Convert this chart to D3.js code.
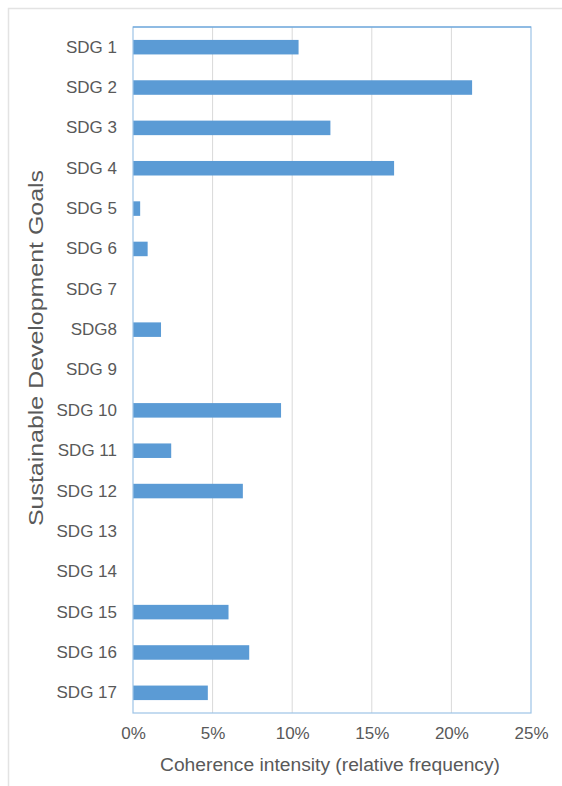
<!DOCTYPE html>
<html>
<head>
<meta charset="utf-8">
<script src="https://cdn.jsdelivr.net/npm/d3@7"></script>
<style>
  body { margin: 0; background: #fff; }
  svg { display: block; font-family: "Liberation Sans", Arial, sans-serif; }
</style>
</head>
<body>
<svg width="562" height="786"></svg>
<script>
var categories = ["SDG 1", "SDG 2", "SDG 3", "SDG 4", "SDG 5", "SDG 6", "SDG 7", "SDG8", "SDG 9",
  "SDG 10", "SDG 11", "SDG 12", "SDG 13", "SDG 14", "SDG 15", "SDG 16", "SDG 17"];
var values = [0.104, 0.213, 0.124, 0.164, 0.0045, 0.0092, 0, 0.0176, 0,
  0.093, 0.024, 0.069, 0, 0, 0.060, 0.073, 0.047];
var xTicks = [0, 0.05, 0.10, 0.15, 0.20, 0.25];

var margin = {top: 27, right: 31, bottom: 73, left: 133};
var W = 562, H = 786;
var width = W - margin.left - margin.right;
var height = H - margin.top - margin.bottom;

var svg = d3.select("svg");

// outer chart-area border
svg.append("rect")
  .attr("x", 8.5).attr("y", 8.5)
  .attr("width", W).attr("height", H)
  .style("fill", "none").style("stroke", "#e3e3e3").style("stroke-width", 1.5);

var g = svg.append("g").attr("transform", "translate(" + margin.left + "," + margin.top + ")");

var x = d3.scaleLinear().domain([0, 0.25]).range([0, width]);
var y = d3.scaleBand().domain(categories).range([0, height]).paddingInner(0.64).paddingOuter(0.32);

// gridlines
g.selectAll("line.grid").data(xTicks.slice(1, -1)).enter().append("line")
  .attr("class", "grid")
  .attr("x1", function(d) { return x(d); }).attr("x2", function(d) { return x(d); })
  .attr("y1", 0).attr("y2", height)
  .style("stroke", "#d9d9d9").style("stroke-width", 1);

// bars
g.selectAll("rect.bar").data(values).enter().append("rect")
  .attr("class", "bar")
  .attr("x", 0)
  .attr("y", function(d, i) { return y(categories[i]); })
  .attr("width", function(d) { return x(d); })
  .attr("height", y.bandwidth())
  .style("fill", "#5b9bd5");

// plot border
g.append("rect")
  .attr("x", 0).attr("y", 0).attr("width", width).attr("height", height)
  .style("fill", "none").style("stroke", "#9dc3e6").style("stroke-width", 1.2);
g.append("line").attr("x1", 0).attr("x2", width).attr("y1", 0).attr("y2", 0)
  .style("stroke", "#5b9bd5").style("stroke-width", 1.2);

// axes
var xAxis = g.append("g")
  .attr("transform", "translate(0," + height + ")")
  .call(d3.axisBottom(x).tickValues(xTicks).tickFormat(d3.format(".0%")).tickSize(0).tickPadding(14));
xAxis.select(".domain").remove();
xAxis.selectAll("text").style("font-size", "17px").style("fill", "#595959");

var yAxis = g.append("g")
  .call(d3.axisLeft(y).tickSize(0).tickPadding(16));
yAxis.select(".domain").remove();
yAxis.selectAll("text").style("font-size", "17px").style("fill", "#595959");

// axis titles
svg.append("text")
  .attr("x", margin.left + width / 2 - 2).attr("y", 771)
  .attr("textLength", 340).attr("lengthAdjust", "spacingAndGlyphs")
  .style("text-anchor", "middle").style("font-size", "18px").style("fill", "#595959")
  .text("Coherence intensity (relative frequency)");

svg.append("text")
  .attr("transform", "translate(43,348) rotate(-90)")
  .attr("textLength", 356).attr("lengthAdjust", "spacingAndGlyphs")
  .style("text-anchor", "middle").style("font-size", "19.5px").style("fill", "#595959")
  .text("Sustainable Development Goals");
</script>
</body>
</html>
